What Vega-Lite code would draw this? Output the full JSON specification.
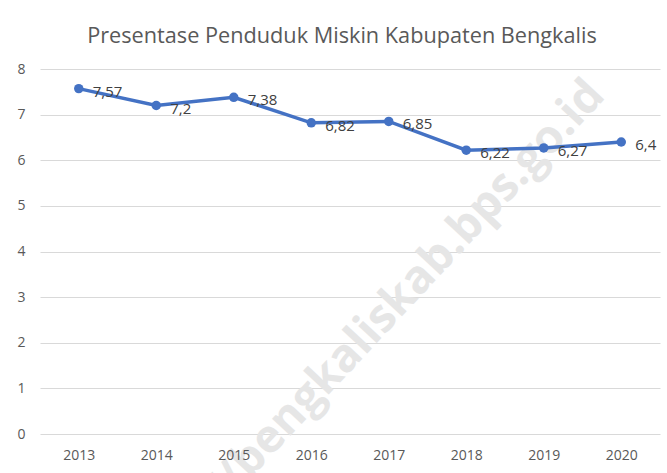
{
  "$schema": "https://vega.github.io/schema/vega-lite/v6.json",
  "width": 620,
  "height": 365,
  "autosize": {"type": "none"},
  "padding": {"left": 40, "top": 69, "right": 7, "bottom": 39},
  "background": "white",
  "title": {
    "text": "Presentase Penduduk Miskin Kabupaten Bengkalis",
    "font": "Open Sans",
    "fontSize": 21.7,
    "fontWeight": "normal",
    "color": "#595959",
    "anchor": "middle",
    "frame": "group",
    "dx": -8,
    "offset": 14
  },
  "config": {
    "view": {"stroke": null},
    "font": "Open Sans"
  },
  "datasets": {
    "main": [
      {"year": "2013", "value": 7.57, "label": "7,57"},
      {"year": "2014", "value": 7.2, "label": "7,2"},
      {"year": "2015", "value": 7.38, "label": "7,38"},
      {"year": "2016", "value": 6.82, "label": "6,82"},
      {"year": "2017", "value": 6.85, "label": "6,85"},
      {"year": "2018", "value": 6.22, "label": "6,22"},
      {"year": "2019", "value": 6.27, "label": "6,27"},
      {"year": "2020", "value": 6.4, "label": "6,4"}
    ],
    "wm": [
      {"year": "2017", "value": 2.72, "text": "https://bengkaliskab.bps.go.id"}
    ]
  },
  "layer": [
    {
      "data": {"name": "wm"},
      "mark": {
        "type": "text",
        "angle": -47,
        "font": "Open Sans",
        "fontWeight": "bold",
        "fontSize": 46,
        "color": "#e6e6e6",
        "align": "center",
        "baseline": "middle",
        "dx": -44
      },
      "encoding": {
        "x": {"field": "year", "type": "ordinal"},
        "y": {"field": "value", "type": "quantitative"},
        "text": {"field": "text"}
      }
    },
    {
      "data": {"name": "main"},
      "mark": {"type": "line", "color": "#4472c4", "strokeWidth": 3.5},
      "encoding": {
        "x": {
          "field": "year",
          "type": "ordinal",
          "title": null,
          "scale": {"paddingInner": 0, "paddingOuter": 0.5},
          "axis": {
            "zindex": 1,
            "labelAngle": 0,
            "labelAlign": "center",
            "labelBaseline": "top",
            "domain": false,
            "ticks": false,
            "labelPadding": 14,
            "labelFont": "Open Sans",
            "labelFontSize": 14,
            "labelColor": "#595959"
          }
        },
        "y": {
          "field": "value",
          "type": "quantitative",
          "title": null,
          "scale": {"domain": [0, 8]},
          "axis": {
            "values": [0, 1, 2, 3, 4, 5, 6, 7, 8],
            "domain": false,
            "ticks": false,
            "labelPadding": 15,
            "labelFont": "Open Sans",
            "labelFontSize": 14,
            "labelColor": "#595959",
            "gridColor": "#d9d9d9",
            "gridWidth": 1
          }
        }
      }
    },
    {
      "data": {"name": "main"},
      "mark": {"type": "point", "filled": true, "color": "#4472c4", "size": 90, "opacity": 1},
      "encoding": {
        "x": {"field": "year", "type": "ordinal"},
        "y": {"field": "value", "type": "quantitative"}
      }
    },
    {
      "data": {"name": "main"},
      "mark": {
        "type": "text",
        "align": "left",
        "baseline": "middle",
        "dx": 14,
        "dy": 3,
        "font": "Open Sans",
        "fontSize": 15,
        "color": "#404040"
      },
      "encoding": {
        "x": {"field": "year", "type": "ordinal"},
        "y": {"field": "value", "type": "quantitative"},
        "text": {"field": "label"}
      }
    }
  ]
}
